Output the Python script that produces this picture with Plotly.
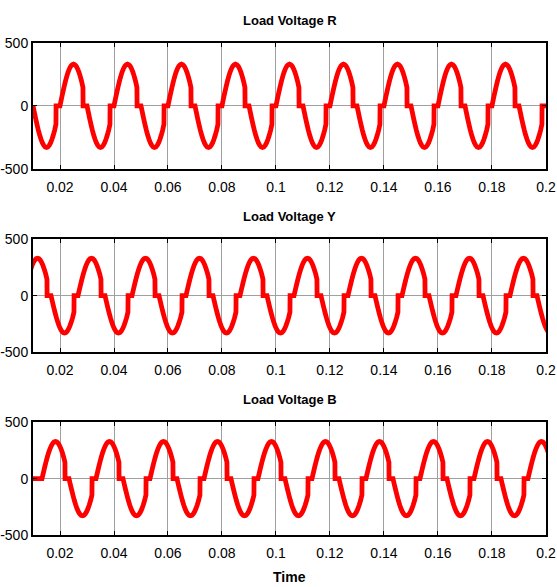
import plotly.graph_objects as go

# ---- data ----
TITLES = ["Load Voltage R", "Load Voltage Y", "Load Voltage B"]
X_LABEL = "Time"
X_TICKS = [0.02, 0.04, 0.06, 0.08, 0.1, 0.12, 0.14, 0.16, 0.18, 0.2]
X_TICK_TEXT = ["0.02", "0.04", "0.06", "0.08", "0.1", "0.12", "0.14", "0.16", "0.18", "0.2"]
Y_TICKS = [-500, 0, 500]
Y_TICK_TEXT = ["-500", "0", "500"]

# one half-cycle lobe: ms after the zero crossing -> fraction of the peak
LOBE_MS = [0, 0.5, 1, 1.5, 2, 2.5, 3, 3.5, 4, 4.5, 5, 5.5, 6, 6.5, 7, 7.5, 8, 8.5]
LOBE_SHAPE = [0, 0.156, 0.309, 0.454, 0.588, 0.707, 0.809, 0.891, 0.951, 0.988,
              1.0, 0.988, 0.951, 0.891, 0.809, 0.707, 0.588, 0.440]
NOTCH_START_MS = 8.55  # voltage drops to zero here
LOBE_END_MS = 10.0     # and stays at zero until the next crossing

R_LOBE_START = [0.010, 0.020, 0.030, 0.040, 0.050, 0.060, 0.070, 0.080, 0.090, 0.100,
                0.110, 0.120, 0.130, 0.140, 0.150, 0.160, 0.170, 0.180, 0.190]
R_LOBE_PEAK = [-330, 330, -330, 330, -330, 330, -330, 330, -330, 330,
               -330, 330, -330, 330, -330, 330, -330, 330, -330]

Y_LOBE_START = [0.00667, 0.01667, 0.02667, 0.03667, 0.04667, 0.05667, 0.06667, 0.07667,
                0.08667, 0.09667, 0.10667, 0.11667, 0.12667, 0.13667, 0.14667, 0.15667,
                0.16667, 0.17667, 0.18667, 0.19667]
Y_LOBE_PEAK = [330, -330, 330, -330, 330, -330, 330, -330, 330, -330,
               330, -330, 330, -330, 330, -330, 330, -330, 330, -330]

B_LOBE_START = [0.01333, 0.02333, 0.03333, 0.04333, 0.05333, 0.06333, 0.07333, 0.08333,
                0.09333, 0.10333, 0.11333, 0.12333, 0.13333, 0.14333, 0.15333, 0.16333,
                0.17333, 0.18333, 0.19333]
B_LOBE_PEAK = [330, -330, 330, -330, 330, -330, 330, -330, 330, -330,
               330, -330, 330, -330, 330, -330, 330, -330, 330]
B_INITIAL_ZERO = [0.010, 0.01333]   # B output held at zero before first conduction


def build_trace(starts, peaks, lead_zero=None):
    xs, ys = [], []
    if lead_zero:
        xs += list(lead_zero)
        ys += [0] * len(lead_zero)
    for t0, pk in zip(starts, peaks):
        for ms, f in zip(LOBE_MS, LOBE_SHAPE):
            xs.append(t0 + ms / 1000.0)
            ys.append(pk * f)
        xs += [t0 + NOTCH_START_MS / 1000.0, t0 + LOBE_END_MS / 1000.0]
        ys += [0, 0]
    return xs, ys


series = [
    build_trace(R_LOBE_START, R_LOBE_PEAK),
    build_trace(Y_LOBE_START, Y_LOBE_PEAK),
    build_trace(B_LOBE_START, B_LOBE_PEAK, B_INITIAL_ZERO),
]

W, H = 557, 587
X_LEFT, X_RIGHT = 33, 546
Y_DOMAINS_PX = [(42.7, 169.0), (239.0, 352.3), (422.3, 535.0)]

FONT = "Liberation Sans, Arial, sans-serif"

fig = go.Figure()
annotations = []
for i, ((xs, ys), title, (top, bot)) in enumerate(zip(series, TITLES, Y_DOMAINS_PX)):
    n = "" if i == 0 else str(i + 1)
    fig.add_trace(go.Scatter(x=xs, y=ys, mode="lines",
                             line=dict(color="#ff0000", width=4.8, simplify=False),
                             xaxis="x" + n, yaxis="y" + n, showlegend=False,
                             hoverinfo="skip"))
    axis_common = dict(showline=True, linecolor="black", linewidth=2, mirror="ticks",
                       ticks="inside", ticklen=4, tickcolor="black", tickwidth=1,
                       showgrid=True, gridcolor="#a0a0a0", gridwidth=1,
                       zeroline=False, automargin=False,
                       tickfont=dict(family=FONT, size=14, color="black"))
    fig.layout["xaxis" + n] = dict(
        axis_common, domain=[X_LEFT / W, X_RIGHT / W], range=[0.01, 0.20001],
        tickvals=X_TICKS, ticktext=X_TICK_TEXT, anchor="y" + n, ticklabelstandoff=4)
    fig.layout["yaxis" + n] = dict(
        axis_common, domain=[1 - bot / H, 1 - top / H], range=[-500, 500],
        tickvals=Y_TICKS, ticktext=Y_TICK_TEXT, anchor="x" + n, ticklabelstandoff=0)
    annotations.append(dict(text="<b>" + title + "</b>", xref="paper", yref="paper",
                            x=(X_LEFT + X_RIGHT) / 2 / W, y=1 - (top - 22.5) / H,
                            xanchor="center", yanchor="middle", showarrow=False,
                            font=dict(family=FONT, size=13, color="black")))

annotations.append(dict(text="<b>" + X_LABEL + "</b>", xref="paper", yref="paper",
                        x=(X_LEFT + X_RIGHT) / 2 / W, y=1 - 577 / H,
                        xanchor="center", yanchor="middle", showarrow=False,
                        font=dict(family=FONT, size=14, color="black")))

fig.update_layout(width=W, height=H, margin=dict(l=0, r=0, t=0, b=0),
                  paper_bgcolor="white", plot_bgcolor="white",
                  annotations=annotations, showlegend=False)

fig.write_html("out.html", config={"displayModeBar": False},
               post_script="document.body.style.margin='0';"
                           "document.body.style.overflow='hidden';")
